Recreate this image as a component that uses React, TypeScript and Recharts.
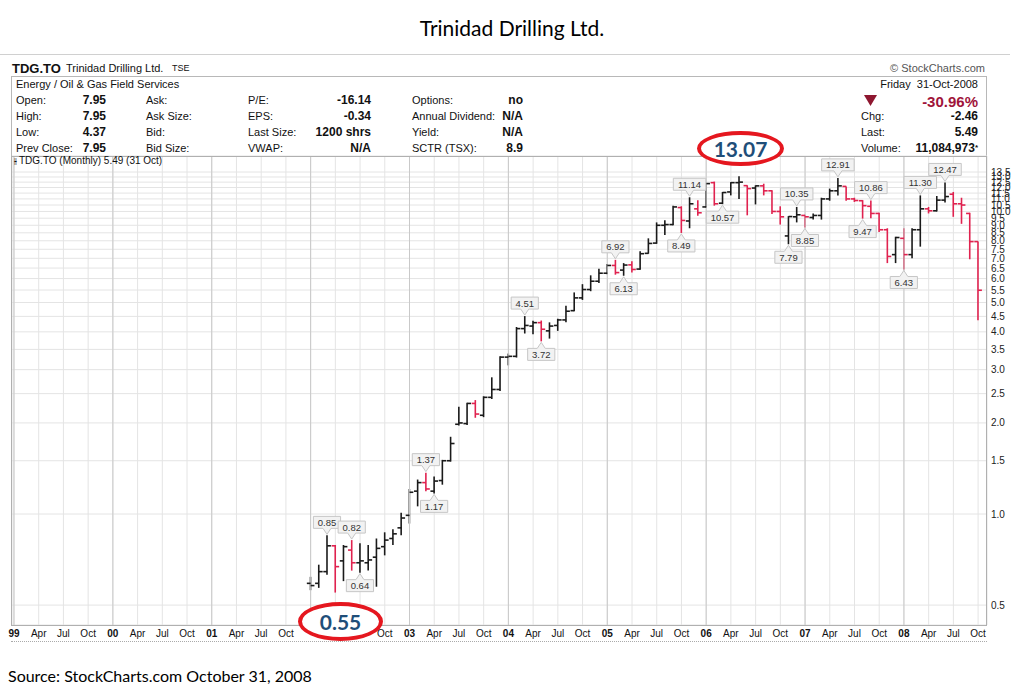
import React from "react";
import {
  ComposedChart,
  Bar,
  Scatter,
  XAxis,
  YAxis,
  CartesianGrid,
  ReferenceLine,
  LabelList,
} from "recharts";

// monthly bars, Jan 2002 .. Oct 2008
const opens = [
  0.59, 0.59, 0.645, 0.785, 0.7, 0.76, 0.69, 0.69, 0.72, 0.78, 0.83, 0.9,
  0.99, 1.19, 1.27, 1.19, 1.29, 1.5, 1.98, 1.99, 2.32, 2.12, 2.43, 2.58,
  3.3, 3.32, 4.1, 4.18, 4.29, 4.03, 4.2, 4.38, 4.7, 5.18, 5.52, 5.88,
  6.25, 6.63, 6.4, 6.66, 6.45, 7.27, 7.86, 9.0, 9.05, 10.3, 9.3, 10.2,
  10.35, 12.45, 10.65, 11.6, 12.45, 12.17, 11.95, 12.15, 11.7, 10.0, 8.3, 9.6,
  9.7, 9.55, 9.7, 11.0, 11.7, 12.1, 11.0, 10.85, 10.4, 9.85, 8.7, 7.2,
  8.15, 7.2, 8.7, 10.2, 10.05, 10.9, 11.4, 10.6, 9.85, 7.95,
];
const highs = [
  0.62, 0.68, 0.85, 0.79, 0.79, 0.82, 0.8, 0.79, 0.83, 0.87, 0.89, 1.01,
  1.21, 1.3, 1.37, 1.33, 1.51, 1.8, 2.26, 2.33, 2.38, 2.45, 2.83, 3.32,
  3.39, 4.15, 4.51, 4.35, 4.36, 4.3, 4.42, 4.88, 5.4, 5.75, 6.15, 6.47,
  6.7, 6.92, 6.75, 6.84, 7.38, 8.15, 9.2, 9.35, 10.45, 10.4, 11.14, 10.9,
  12.45, 12.55, 11.6, 12.5, 13.07, 12.2, 12.2, 12.35, 11.75, 10.4, 9.65, 10.35,
  9.75, 9.85, 11.1, 11.9, 12.91, 12.1, 11.1, 10.9, 10.86, 9.9, 8.8, 8.25,
  8.8, 8.8, 11.3, 10.35, 11.25, 12.47, 11.6, 11.1, 9.9, 7.95,
];
const lows = [
  0.56, 0.57, 0.63, 0.55, 0.6, 0.65, 0.64, 0.65, 0.575, 0.73, 0.79, 0.85,
  0.93, 1.06, 1.19, 1.17, 1.25, 1.49, 1.96, 1.97, 2.08, 2.09, 2.4, 2.55,
  3.1, 3.29, 3.95, 3.93, 3.72, 3.8, 4.03, 4.3, 4.68, 5.1, 5.45, 5.8,
  6.2, 6.18, 6.13, 6.28, 6.42, 7.25, 7.82, 8.36, 9.0, 8.49, 8.8, 9.67,
  10.3, 10.45, 10.57, 11.3, 11.0, 9.71, 10.55, 11.3, 9.8, 9.05, 7.79, 9.2,
  8.85, 9.4, 9.4, 10.85, 11.3, 10.85, 10.75, 9.47, 9.5, 8.55, 6.75, 6.75,
  6.43, 7.0, 7.65, 9.85, 10.0, 10.7, 9.6, 9.1, 6.95, 4.37,
];
const closes = [
  0.58, 0.645, 0.785, 0.67, 0.78, 0.69, 0.7, 0.705, 0.77, 0.82, 0.86, 0.97,
  1.18, 1.27, 1.21, 1.285, 1.5, 1.71, 2.0, 2.32, 2.14, 2.43, 2.58, 3.3,
  3.32, 4.1, 4.2, 4.29, 4.08, 4.18, 4.38, 4.68, 5.18, 5.52, 5.88, 6.25,
  6.63, 6.28, 6.65, 6.43, 7.25, 7.84, 9.0, 9.05, 10.35, 9.34, 10.6, 9.9,
  12.36, 10.6, 11.55, 12.45, 12.5, 11.9, 12.15, 11.7, 10.0, 9.6, 9.62, 9.75,
  9.6, 9.7, 11.0, 11.7, 12.15, 11.0, 10.87, 10.45, 9.85, 8.7, 7.1, 8.2,
  7.2, 8.7, 10.2, 10.05, 10.9, 11.2, 10.6, 10.5, 7.95, 5.49,
];

// [bar index, text]; the 13.07 high and 0.55 low are shown as circled callouts
const highNotes: [number, string][] = [
  [2, "0.85"], [5, "0.82"], [14, "1.37"], [26, "4.51"], [37, "6.92"],
  [46, "11.14"], [59, "10.35"], [64, "12.91"], [68, "10.86"],
  [74, "11.30"], [77, "12.47"],
];
const lowNotes: [number, string][] = [
  [6, "0.64"], [15, "1.17"], [28, "3.72"], [38, "6.13"],
  [45, "8.49"], [50, "10.57"], [58, "7.79"], [60, "8.85"], [67, "9.47"],
  [72, "6.43"],
];

const firstMonth = 36; // months counted from Jan 1999

const yTicks = [
  0.5, 1.0, 1.5, 2.0, 2.5, 3.0, 3.5, 4.0, 4.5, 5.0, 5.5, 6.0, 6.5, 7.0, 7.5,
  8.0, 8.5, 9.0, 9.5, 10.0, 10.5, 11.0, 11.5, 12.0, 12.5, 13.0, 13.5,
];
const quarterTicks = [
  0, 3, 6, 9, 12, 15, 18, 21, 24, 27, 30, 33, 36, 39, 42, 45, 48, 51, 54, 57,
  60, 63, 66, 69, 72, 75, 78, 81, 84, 87, 90, 93, 96, 99, 102, 105, 108, 111,
  114, 117,
];
const yearTicks = [0, 12, 24, 36, 48, 60, 72, 84, 96, 108];
const yearNames = ["99", "00", "01", "02", "03", "04", "05", "06", "07", "08"];
const quarterNames = ["", "Apr", "Jul", "Oct"];
const coveredTicks = [36, 39, 42]; // hidden behind the 0.55 callout

const UP = "#1a1a1a";
const DOWN = "#e0224f";
const SANS = "'Liberation Sans', Arial, sans-serif";

const data = opens.map((o, i) => ({
  t: firstMonth + i,
  open: o,
  close: closes[i],
  range: [lows[i], highs[i]],
  up: i === 0 || closes[i] >= closes[i - 1],
  hi: highNotes.find((n) => n[0] === i)?.[1] ?? "",
  lo: lowNotes.find((n) => n[0] === i)?.[1] ?? "",
}));

const barColor = (p: any) => (p && p.up ? UP : DOWN);

const RangeShape = (props: any) => {
  const { x, y, width, height, payload } = props;
  const cx = x + width / 2;
  const top = Math.min(y, y + height);
  const bot = Math.max(y, y + height);
  return (
    <line x1={cx} x2={cx} y1={top} y2={bot} stroke={barColor(payload)} strokeWidth={1.6} />
  );
};

const OpenTick = (props: any) => {
  const { cx, cy, payload } = props;
  return (
    <line x1={cx - 3.8} x2={cx} y1={cy} y2={cy} stroke={barColor(payload)} strokeWidth={1.6} />
  );
};

const CloseTick = (props: any) => {
  const { cx, cy, payload } = props;
  return (
    <line x1={cx} x2={cx + 3.8} y1={cy} y2={cy} stroke={barColor(payload)} strokeWidth={1.6} />
  );
};

const note = (below: boolean) => (props: any) => {
  const { x, y, width, height, value } = props;
  if (!value) return null;
  const cx = Number(x) + Number(width) / 2;
  const top = Math.min(Number(y), Number(y) + Number(height));
  const bot = Math.max(Number(y), Number(y) + Number(height));
  const w = String(value).length * 5.3 + 6;
  const h = 12;
  const l = cx - w / 2;
  const r = cx + w / 2;
  let d: string;
  let ty: number;
  if (below) {
    const tip = bot + 1;
    const bt = tip + 6;
    d = `M${l},${bt} H${cx - 4} L${cx},${tip} L${cx + 4},${bt} H${r} V${bt + h} H${l} Z`;
    ty = bt + 9.5;
  } else {
    const tip = top - 1;
    const bb = tip - 6;
    d = `M${l},${bb - h} H${r} V${bb} H${cx + 4} L${cx},${tip} L${cx - 4},${bb} H${l} Z`;
    ty = bb - 2.5;
  }
  return (
    <g>
      <path d={d} fill="#f2f2f2" stroke="#c6c6c6" strokeWidth={1} />
      <text x={cx} y={ty} textAnchor="middle" fontSize={9.5} fontFamily={SANS} fill="#333">
        {value}
      </text>
    </g>
  );
};

const XTick = (props: any) => {
  const { x, y, payload } = props;
  const t = payload.value;
  if (coveredTicks.includes(t)) return null;
  const isYear = t % 12 === 0;
  const label = isYear ? yearNames[t / 12] : quarterNames[(t % 12) / 3];
  return (
    <text x={x} y={y + 12} textAnchor="middle" fontSize={10} fontWeight={isYear ? 700 : 400} fontFamily={SANS} fill="#111">
      {label}
    </text>
  );
};

const YTick = (props: any) => {
  const { x, y, payload } = props;
  return (
    <text x={x} y={y + 3.5} textAnchor="start" fontSize={10} fontFamily={SANS} fill="#222">
      {payload.value.toFixed(1)}
    </text>
  );
};

const Txt = ({ x, y, right, bold, size = 11, color = "#111", children }: any) => (
  <div
    style={{
      position: "absolute",
      top: y - (size + 2) / 2,
      ...(right ? { right: 1024 - x } : { left: x }),
      fontSize: size,
      lineHeight: `${size + 2}px`,
      fontWeight: bold ? 700 : 400,
      color,
      whiteSpace: "nowrap",
    }}
  >
    {children}
  </div>
);

const Ellipse = ({ left, top, width, height, text }: any) => (
  <div
    style={{
      position: "absolute",
      left,
      top,
      width,
      height,
      boxSizing: "border-box",
      border: "4px solid #e5171f",
      borderRadius: "50%",
      background: "#fff",
      display: "flex",
      alignItems: "center",
      justifyContent: "center",
      fontFamily: "Lato, 'Open Sans', sans-serif",
      fontWeight: 700,
      fontSize: 21,
      color: "#1f4e79",
    }}
  >
    {text}
  </div>
);

export default function App() {
  return (
    <div
      style={{
        position: "absolute",
        left: 0,
        top: 0,
        width: 1024,
        height: 693,
        background: "#fff",
        overflow: "hidden",
        fontFamily: SANS,
      }}
    >
      <div
        style={{
          position: "absolute",
          left: 0,
          top: 15,
          width: 1024,
          textAlign: "center",
          fontFamily: "Lato, 'Open Sans', sans-serif",
          fontSize: 21,
          lineHeight: "26px",
          color: "#000",
        }}
      >
        Trinidad Drilling Ltd.
      </div>
      <div style={{ position: "absolute", left: 0, top: 54, width: 1010, height: 1, background: "#d0d0d0" }} />

      {/* quote header */}
      <Txt x={12} y={68} bold size={13}>TDG.TO</Txt>
      <Txt x={66} y={68}>Trinidad Drilling Ltd.</Txt>
      <Txt x={172} y={68} size={9}>TSE</Txt>
      <Txt x={985} y={68} right color="#555">© StockCharts.com</Txt>
      <div
        style={{
          position: "absolute",
          left: 11,
          top: 76,
          width: 976,
          height: 80,
          boxSizing: "border-box",
          border: "1px solid #b8b8b8",
          borderBottom: "none",
        }}
      />
      <Txt x={16} y={84}>Energy / Oil &amp; Gas Field Services</Txt>
      <Txt x={978} y={84} right>Friday&nbsp;&nbsp;31-Oct-2008</Txt>

      <Txt x={16} y={100}>Open:</Txt>
      <Txt x={16} y={116}>High:</Txt>
      <Txt x={16} y={132}>Low:</Txt>
      <Txt x={16} y={148}>Prev Close:</Txt>
      <Txt x={106} y={100} right bold size={12}>7.95</Txt>
      <Txt x={106} y={116} right bold size={12}>7.95</Txt>
      <Txt x={106} y={132} right bold size={12}>4.37</Txt>
      <Txt x={106} y={148} right bold size={12}>7.95</Txt>

      <Txt x={146} y={100}>Ask:</Txt>
      <Txt x={146} y={116}>Ask Size:</Txt>
      <Txt x={146} y={132}>Bid:</Txt>
      <Txt x={146} y={148}>Bid Size:</Txt>

      <Txt x={248} y={100}>P/E:</Txt>
      <Txt x={248} y={116}>EPS:</Txt>
      <Txt x={248} y={132}>Last Size:</Txt>
      <Txt x={248} y={148}>VWAP:</Txt>
      <Txt x={371} y={100} right bold size={12}>-16.14</Txt>
      <Txt x={371} y={116} right bold size={12}>-0.34</Txt>
      <Txt x={371} y={132} right bold size={12}>1200 shrs</Txt>
      <Txt x={371} y={148} right bold size={12}>N/A</Txt>

      <Txt x={412} y={100}>Options:</Txt>
      <Txt x={412} y={116}>Annual Dividend:</Txt>
      <Txt x={412} y={132}>Yield:</Txt>
      <Txt x={412} y={148}>SCTR (TSX):</Txt>
      <Txt x={523} y={100} right bold size={12}>no</Txt>
      <Txt x={523} y={116} right bold size={12}>N/A</Txt>
      <Txt x={523} y={132} right bold size={12}>N/A</Txt>
      <Txt x={523} y={148} right bold size={12}>8.9</Txt>

      <svg style={{ position: "absolute", left: 864, top: 95 }} width={14} height={12}>
        <polygon points="0,0 13,0 6.5,11" fill="#8e1730" />
      </svg>
      <Txt x={978} y={101} right bold size={15} color="#a0143a">-30.96%</Txt>
      <Txt x={861} y={116}>Chg:</Txt>
      <Txt x={861} y={132}>Last:</Txt>
      <Txt x={861} y={148}>Volume:</Txt>
      <Txt x={978} y={116} right bold size={12}>-2.46</Txt>
      <Txt x={978} y={132} right bold size={12}>5.49</Txt>
      <Txt x={978} y={148} right bold size={12}>
        11,084,973<span style={{ fontSize: 8, verticalAlign: "top" }}>*</span>
      </Txt>

      <div style={{ position: "absolute", left: 0, top: 0 }}>
        <ComposedChart
          width={1024}
          height={693}
          data={data}
          margin={{ top: 156, left: 12, right: 0, bottom: 52 }}
        >
          <CartesianGrid stroke="#e4e4e4" strokeWidth={1} />
          {yearTicks.map((t) => (
            <ReferenceLine key={t} x={t} stroke="#c9c9c9" strokeWidth={1} />
          ))}
          <XAxis
            dataKey="t"
            type="number"
            domain={[-0.24, 118.08]}
            ticks={quarterTicks}
            interval={0}
            tick={<XTick />}
            tickSize={0}
            tickMargin={0}
            tickLine={false}
            axisLine={false}
            height={16}
            allowDataOverflow
          />
          <YAxis
            orientation="right"
            scale="log"
            domain={[0.4297, 15.25]}
            ticks={yTicks}
            interval={0}
            tick={<YTick />}
            tickSize={0}
            tickMargin={4}
            tickLine={false}
            axisLine={false}
            width={37}
            allowDataOverflow
          />
          <Bar dataKey="range" barSize={2} shape={<RangeShape />} isAnimationActive={false}>
            <LabelList dataKey="hi" content={note(false)} />
            <LabelList dataKey="lo" content={note(true)} />
          </Bar>
          <Scatter dataKey="open" shape={<OpenTick />} isAnimationActive={false} />
          <Scatter dataKey="close" shape={<CloseTick />} isAnimationActive={false} />
        </ComposedChart>
      </div>

      {/* plot frame and axis band */}
      <div
        style={{
          position: "absolute",
          left: 11,
          top: 156,
          width: 976,
          height: 470,
          boxSizing: "border-box",
          border: "1px solid #b0b0b0",
          pointerEvents: "none",
        }}
      />
      <div style={{ position: "absolute", left: 11, top: 641, width: 976, height: 0, borderTop: "1px dotted #aaa" }} />
      <div style={{ position: "absolute", left: 14, top: 155, fontSize: 10, lineHeight: "12px", color: "#111" }}>
        <span style={{ fontSize: 9, marginRight: 2 }}>⫲</span>TDG.TO (Monthly) 5.49 (31 Oct)
      </div>

      <Ellipse left={697} top={131} width={87} height={35} text="13.07" />
      <Ellipse left={298} top={602} width={85} height={39} text="0.55" />

      <div
        style={{
          position: "absolute",
          left: 8,
          top: 666,
          fontFamily: "Lato, 'Open Sans', sans-serif",
          fontSize: 16,
          lineHeight: "20px",
          color: "#000",
        }}
      >
        Source: StockCharts.com October 31, 2008
      </div>
    </div>
  );
}
